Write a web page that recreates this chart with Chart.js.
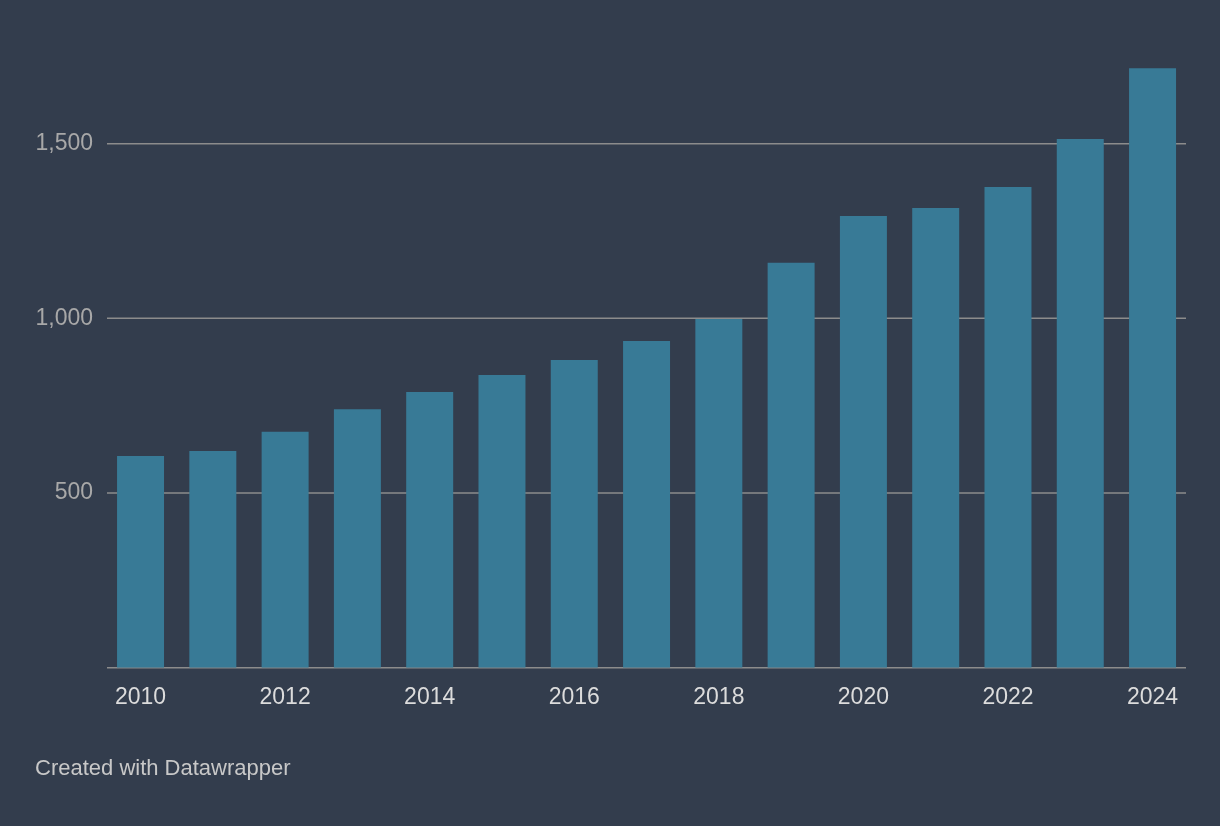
<!DOCTYPE html>
<html>
<head>
<meta charset="utf-8">
<script src="https://cdn.jsdelivr.net/npm/chart.js@4/dist/chart.umd.min.js"></script>
<style>
  html, body { margin: 0; padding: 0; background: #333d4d; }
  #wrap { position: relative; width: 1220px; height: 826px; overflow: hidden; }
  #c { display: block; }
  #footer {
    position: absolute; left: 35px; top: 755px;
    font-family: "Liberation Sans", Arial, sans-serif; font-size: 22px;
    color: #c8c8c8; line-height: 26px; white-space: nowrap;
  }
</style>
</head>
<body>
<div id="wrap">
  <canvas id="c" width="1220" height="826"></canvas>
  <div id="footer">Created with Datawrapper</div>
</div>
<script>
const years = ['2010','2011','2012','2013','2014','2015','2016','2017','2018','2019','2020','2021','2022','2023','2024'];
const values = [606, 620, 675, 740, 789, 838, 881, 935, 998, 1159, 1293, 1316, 1376, 1513, 1716];
const yTicks = [500, 1000, 1500];
const gridValues = [0, 500, 1000, 1500];

const FONT = '"Liberation Sans", Arial, sans-serif';

const gridPlugin = {
  id: 'dwGrid',
  beforeDatasetsDraw(chart) {
    const y = chart.scales.y;
    const ctx = chart.ctx;
    ctx.save();
    ctx.strokeStyle = '#8c8c8c';
    ctx.lineWidth = 1.5;
    gridValues.forEach(v => {
      const py = y.getPixelForValue(v);
      ctx.beginPath();
      ctx.moveTo(107, py);
      ctx.lineTo(1186, py);
      ctx.stroke();
    });
    ctx.restore();
  }
};

new Chart(document.getElementById('c'), {
  type: 'bar',
  data: {
    labels: years,
    datasets: [{
      data: values,
      backgroundColor: '#387a96',
      borderWidth: 0,
      categoryPercentage: 1,
      barPercentage: 0.65
    }]
  },
  options: {
    responsive: false,
    devicePixelRatio: 1,
    animation: false,
    layout: { padding: { left: 0, right: 31.3, top: 56.3, bottom: 0 } },
    plugins: { legend: { display: false }, tooltip: { enabled: false } },
    scales: {
      x: {
        offset: true,
        grid: { display: false, drawTicks: false },
        border: { display: false },
        afterFit(scale) { scale.height = 158.3; },
        ticks: {
          autoSkip: false,
          maxRotation: 0,
          padding: 16,
          color: '#dcdcdc',
          font: { family: FONT, size: 23 },
          callback(val, i) { return i % 2 === 0 ? years[i] : ''; }
        }
      },
      y: {
        min: 0,
        max: 1750,
        afterFit(scale) { scale.width = 104.4; },
        afterBuildTicks(scale) { scale.ticks = yTicks.map(v => ({ value: v })); },
        grid: { display: false, drawTicks: false },
        border: { display: false },
        ticks: {
          padding: 11.4,
          color: '#a8a8a8',
          font: { family: FONT, size: 23 },
          callback(v) { return v.toLocaleString('en-US'); }
        }
      }
    }
  },
  plugins: [gridPlugin]
});
</script>
</body>
</html>
